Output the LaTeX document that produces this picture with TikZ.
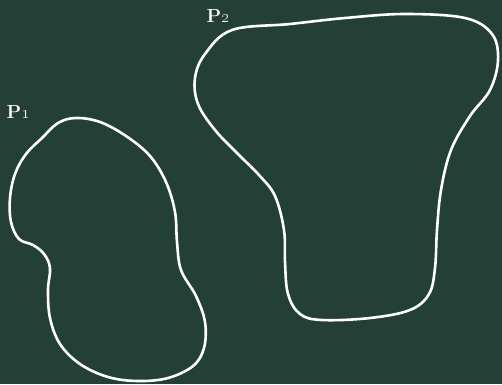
\documentclass[tikz,border=0pt]{standalone}
\usepackage{tikz}
\usetikzlibrary{positioning}
\definecolor{board}{RGB}{36,64,54}

\begin{document}
\begin{tikzpicture}[
        x=1pt, y=-1pt,
        blob/.style={draw=white, line width=2.6pt, line join=round},
        lbl/.style={text=white, font=\fontsize{19}{19}\selectfont\bfseries, inner sep=0pt}
    ]
    \fill[board] (0,0) rectangle (502,384);
    \useasboundingbox (0,0) rectangle (502,384);

    % first region
    \draw[blob] plot[smooth cycle, tension=0.6] coordinates {
        (42,138) (58,123) (76,118) (100,122) (126,136) (150,156) (166,182)
        (175,212) (177,242) (181,270) (196,296) (205,322) (204,348)
        (193,366) (168,378) (138,381) (108,377) (80,364) (60,344)
        (50,318) (48,290) (50,268) (44,254) (33,245) (19,239)
        (11,222) (10,198) (15,174) (26,154)};

    % second region
    \draw[blob] plot[smooth cycle, tension=0.6] coordinates {
        (232,30) (290,24) (345,18) (405,14) (465,18) (492,34) (498,60)
        (490,90) (470,116) (451,150) (441,190) (437,230) (435,268)
        (429,294) (410,310) (370,318) (322,320) (300,314) (288,294)
        (285,262) (284,230) (275,196) (259,175) (238,154) (215,130)
        (198,104) (195,78) (205,54)};

    \node[lbl] (p1) at (18,112) {P\oldstylenums{1}};
    \node[lbl] (p2) at (218,16) {P\oldstylenums{2}};
\end{tikzpicture}
\end{document}
